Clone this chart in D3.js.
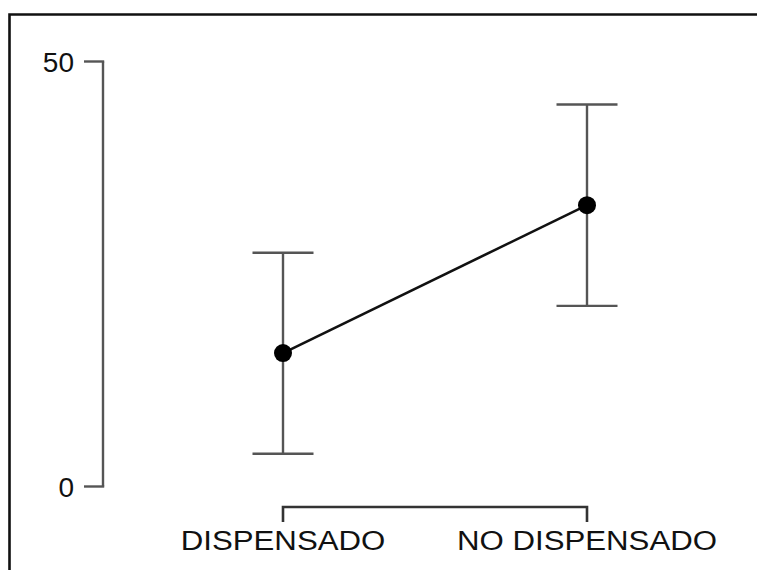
<!DOCTYPE html>
<html>
<head>
<meta charset="utf-8">
<script src="https://cdn.jsdelivr.net/npm/d3@7"></script>
<style>
  html, body { margin: 0; padding: 0; background: #fff; }
  svg { display: block; }
  text { font-family: "Liberation Sans", Arial, sans-serif; fill: #111; }
</style>
</head>
<body>
<svg id="chart" width="757" height="570"></svg>
<script>
// Group means with their interval bounds
const categories = ["DISPENSADO", "NO DISPENSADO"];
const means = [15.7, 33.1];
const lower = [3.85, 21.25];
const upper = [27.5, 44.95];
const yTicks = [0, 50];

const svg = d3.select("#chart");

// Frame around the plot panel (open to the right and bottom edges)
svg.append("path")
  .attr("d", "M9.5,572 L9.5,14.5 L760,14.5")
  .attr("fill", "none")
  .attr("stroke", "#111")
  .attr("stroke-width", 2.6);

const x = d3.scalePoint().domain(categories).range([283, 587]);
const y = d3.scaleLinear().domain([0, 50]).range([486.5, 61.5]);

const axisColor = "#555";

// Y axis: vertical rule with outward ticks
const yAxisX = 103;
svg.append("line")
  .attr("x1", yAxisX).attr("x2", yAxisX)
  .attr("y1", y(0)).attr("y2", y(50))
  .attr("stroke", axisColor).attr("stroke-width", 2.4);
svg.selectAll(".ytick").data(yTicks).join("line")
  .attr("class", "ytick")
  .attr("x1", yAxisX - 19).attr("x2", yAxisX + 1.2)
  .attr("y1", d => y(d)).attr("y2", d => y(d))
  .attr("stroke", axisColor).attr("stroke-width", 2.4);
svg.selectAll(".ylab").data(yTicks).join("text")
  .attr("class", "ylab")
  .attr("x", 74)
  .attr("y", d => y(d) + 10)
  .attr("text-anchor", "end")
  .attr("font-size", 28)
  .text(d => d);

// X axis: bracket spanning the two groups
const xAxisY = 507;
const xr = x.range();
svg.append("path")
  .attr("d", `M${xr[0]},${xAxisY + 15} L${xr[0]},${xAxisY} L${xr[1]},${xAxisY} L${xr[1]},${xAxisY + 15}`)
  .attr("fill", "none")
  .attr("stroke", "#333").attr("stroke-width", 2.6);
// Category labels, drawn slightly wide
svg.selectAll(".xlab").data(categories).join("text")
  .attr("class", "xlab")
  .attr("transform", d => `translate(${x(d)},549.5) scale(1.115,1)`)
  .attr("text-anchor", "middle")
  .attr("font-size", 28)
  .text(d => d);

// Error bars
const capHalf = 30.5;
const ebColor = "#555";
const rows = categories.map((c, i) => ({ c, m: means[i], lo: lower[i], hi: upper[i] }));
const eb = svg.append("g");
eb.selectAll(".stem").data(rows).join("line")
  .attr("x1", d => x(d.c)).attr("x2", d => x(d.c))
  .attr("y1", d => y(d.lo)).attr("y2", d => y(d.hi))
  .attr("stroke", ebColor).attr("stroke-width", 2.4);
eb.selectAll(".capHi").data(rows).join("line")
  .attr("x1", d => x(d.c) - capHalf).attr("x2", d => x(d.c) + capHalf)
  .attr("y1", d => y(d.hi)).attr("y2", d => y(d.hi))
  .attr("stroke", ebColor).attr("stroke-width", 2.4);
eb.selectAll(".capLo").data(rows).join("line")
  .attr("x1", d => x(d.c) - capHalf).attr("x2", d => x(d.c) + capHalf)
  .attr("y1", d => y(d.lo)).attr("y2", d => y(d.lo))
  .attr("stroke", ebColor).attr("stroke-width", 2.4);

// Line connecting the means
svg.append("path")
  .datum(rows)
  .attr("d", d3.line().x(d => x(d.c)).y(d => y(d.m)))
  .attr("fill", "none")
  .attr("stroke", "#111").attr("stroke-width", 2.6);

// Mean markers
svg.selectAll(".pt").data(rows).join("circle")
  .attr("cx", d => x(d.c)).attr("cy", d => y(d.m))
  .attr("r", 9)
  .attr("fill", "#000");
</script>
</body>
</html>
